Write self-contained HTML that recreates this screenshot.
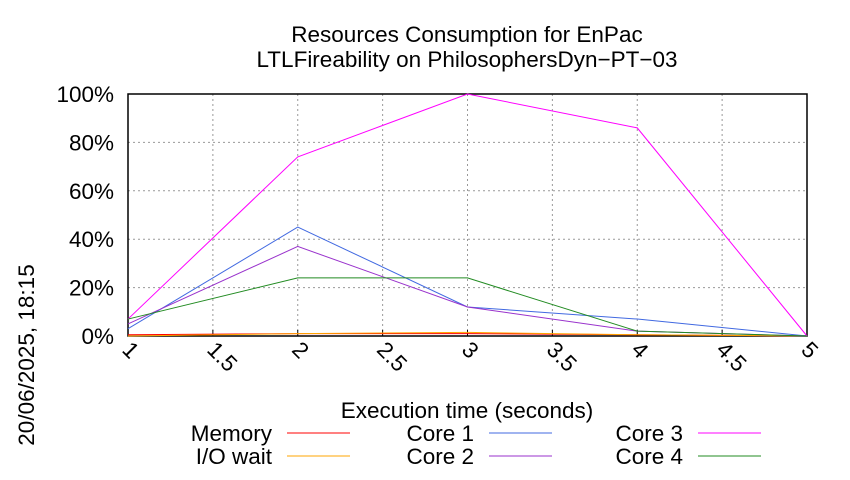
<!DOCTYPE html>
<html><head><meta charset="utf-8"><style>body{margin:0;background:#fff}svg{font-family:"Liberation Sans",sans-serif}</style></head>
<body>
<svg id="c" width="850" height="475" xmlns="http://www.w3.org/2000/svg">
<text x="467" y="42" text-anchor="middle" font-size="22.5">Resources Consumption for EnPac</text>
<text x="467" y="67" text-anchor="middle" font-size="22.5">LTLFireability on PhilosophersDyn−PT−03</text>
<text transform="translate(34,355) rotate(-90)" font-size="22.5" text-anchor="middle">20/06/2025, 18:15</text>
<text x="467" y="418" text-anchor="middle" font-size="22.5">Execution time (seconds)</text>
<g id="grid"></g><g id="series"></g><g id="legend"></g>
</svg>
<script>
const xTicks=[1,1.5,2,2.5,3,3.5,4,4.5,5];
const xTickLabels=["1","1.5","2","2.5","3","3.5","4","4.5","5"];
const yTicks=[0,20,40,60,80,100];
const yTickLabels=["0%","20%","40%","60%","80%","100%"];
const times=[1,2,3,4,5];
const memory=[0.5,1,1,0.5,0];
const ioWait=[0,1,1.5,0.5,0];
const core1=[3,45,12,7,0];
const core2=[5,37,12,2,0];
const core3=[7,74,100,86,0];
const core4=[7,24,24,2,0];
const ns="http://www.w3.org/2000/svg";
const L=128,R=807,T=94,B=336;
const xs=v=>L+(v-1)/4*(R-L);
const ys=v=>B-v/100*(B-T);
function mk(tag,a,p){const e=document.createElementNS(ns,tag);for(const k in a)e.setAttribute(k,a[k]);p.appendChild(e);return e;}
const g=document.getElementById('grid');
yTicks.forEach((t,i)=>{
 const l=mk('line',{x1:L,x2:R,y1:ys(t),y2:ys(t),stroke:'#999','stroke-dasharray':'2,3','stroke-width':1},g);
 
 
 const tx=mk('text',{x:L-14,y:ys(t)+8,'text-anchor':'end','font-size':22.5},g);
 tx.textContent=yTickLabels[i];
 
 
});
xTicks.forEach((t,i)=>{
 const l=mk('line',{x1:xs(t),x2:xs(t),y1:T,y2:B,stroke:'#999','stroke-dasharray':'2,3','stroke-width':1},g);
 
 
 const tk=mk('line',{x1:xs(t),x2:xs(t),y1:B,y2:B-6,stroke:'#000'},g);
 
 
 const tx=mk('text',{transform:`translate(${xs(t)-7},${B+15}) rotate(45)`,'font-size':22.5},g);
 tx.textContent=xTickLabels[i];
 
 
});
const fr=mk('rect',{x:L,y:T,width:R-L,height:B-T,fill:'none',stroke:'#000','stroke-width':1.5},g);


const series=[["Memory",memory,"#ff0000"],["I/O wait",ioWait,"#ffa500"],["Core 1",core1,"#4169e1"],["Core 2",core2,"#9932cc"],["Core 3",core3,"#ff00ff"],["Core 4",core4,"#228b22"]];
const sg=document.getElementById('series'),lg=document.getElementById('legend');
series.forEach((s,i)=>{
 const p=mk('polyline',{points:times.map((t,j)=>xs(t)+','+ys(s[1][j])).join(' '),fill:'none',stroke:s[2],'stroke-width':1},sg);
 
 
 const col=Math.floor(i/2),row=i%2;
 const lx=[272,474,683][col],ly=[441,464][row];
 const tx=mk('text',{x:lx,y:ly,'text-anchor':'end','font-size':22.5},lg);
 tx.textContent=s[0];
 
 
 const ll=mk('line',{x1:lx+15,x2:lx+78,y1:ly-8,y2:ly-8,stroke:s[2],'stroke-width':1},lg);
 
 
});
</script>
</body></html>
